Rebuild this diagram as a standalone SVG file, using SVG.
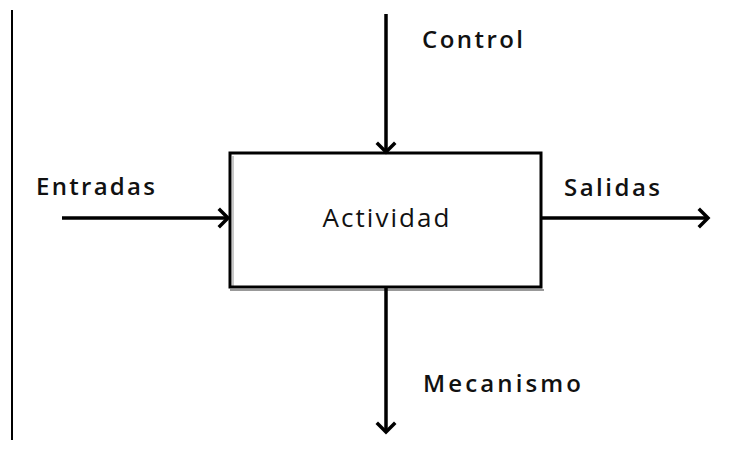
<svg xmlns="http://www.w3.org/2000/svg" width="754" height="450" viewBox="0 0 754 450">
<defs>
<style>
.lbl{font-family:"Open Sans","Liberation Sans",Arial,sans-serif;font-size:24px;font-weight:600;fill:#111}
.main{font-family:"Open Sans","Liberation Sans",Arial,sans-serif;font-size:26px;font-weight:400;fill:#111}
.conn{stroke:#000;stroke-width:3.5;fill:none}
.head{stroke:#000;stroke-width:3.5;fill:none;stroke-linecap:square}
</style>
</defs>
<rect width="754" height="450" fill="#fff"/>
<line x1="12" y1="10" x2="12" y2="440" stroke="#000" stroke-width="2"/>
<g id="actividad">
<line x1="233" y1="156" x2="233" y2="287" stroke="#c8c8c8" stroke-width="2"/>
<line x1="230" y1="290" x2="544" y2="290" stroke="#999" stroke-width="2"/>
<rect x="230" y="153" width="311" height="134" fill="none" stroke="#000" stroke-width="3"/>
<text class="main" x="386" y="227" text-anchor="middle" textLength="127" lengthAdjust="spacing">Actividad</text>
</g>
<g id="connectors">
<g id="control">
<line class="conn" x1="386" y1="14" x2="386" y2="152"/>
<polyline class="head" points="378,144 386,152 394,144"/>
<text class="lbl" x="422" y="48" textLength="101" lengthAdjust="spacing">Control</text>
</g>
<g id="entradas">
<line class="conn" x1="62" y1="218" x2="228" y2="218"/>
<polyline class="head" points="220,210 228,218 220,226"/>
<text class="lbl" x="36" y="195" textLength="119" lengthAdjust="spacing">Entradas</text>
</g>
<g id="salidas">
<line class="conn" x1="542" y1="218" x2="708" y2="218"/>
<polyline class="head" points="700,210 708,218 700,226"/>
<text class="lbl" x="564" y="196" textLength="96" lengthAdjust="spacing">Salidas</text>
</g>
<g id="mecanismo">
<line class="conn" x1="386" y1="288" x2="386" y2="432"/>
<polyline class="head" points="378,424 386,432 394,424"/>
<text class="lbl" x="423" y="392" textLength="158" lengthAdjust="spacing">Mecanismo</text>
</g>
</g>
</svg>
